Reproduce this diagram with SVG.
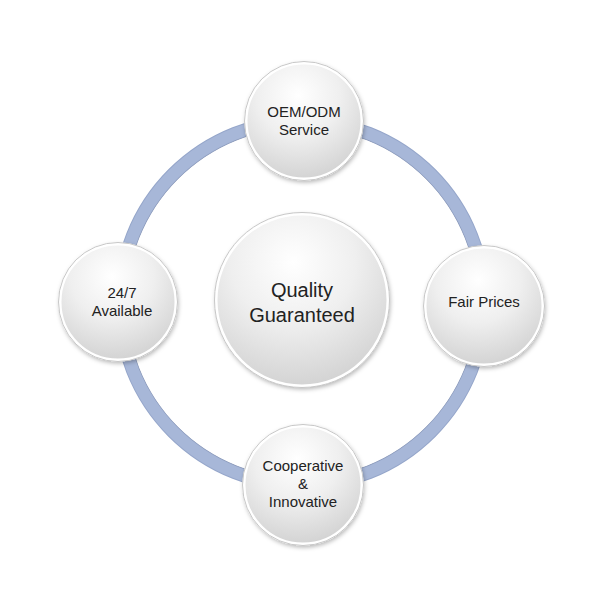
<svg xmlns="http://www.w3.org/2000/svg" width="606" height="606" viewBox="0 0 606 606">
  <style>
    .lbl { font-family: "Liberation Sans", Arial, sans-serif; font-size: 15px; fill: #222222; text-anchor: middle; }
    .big { font-family: "Liberation Sans", Arial, sans-serif; font-size: 20px; fill: #222222; text-anchor: middle; }
    .disc { fill: url(#discFill); stroke: #ffffff; stroke-width: 3; filter: url(#shadow); }
    .rim { fill: none; stroke: #c8c8c8; stroke-width: 1; }
  </style>
  <defs>
    <radialGradient id="discFill" cx="0.45" cy="0.28" r="0.8">
      <stop offset="0" stop-color="#ffffff"/>
      <stop offset="0.45" stop-color="#efefef"/>
      <stop offset="1" stop-color="#cdcdcd"/>
    </radialGradient>
    <filter id="shadow" x="-20%" y="-20%" width="140%" height="140%">
      <feDropShadow dx="1" dy="2" stdDeviation="2" flood-color="#000000" flood-opacity="0.28"/>
    </filter>
  </defs>
  <rect width="606" height="606" fill="#ffffff"/>
  <g id="connectors">
    <circle cx="302" cy="303" r="182" fill="none" stroke="#95a6ca" stroke-width="14"/>
    <circle cx="302" cy="303" r="182" fill="none" stroke="#a7b7d8" stroke-width="12"/>
    <circle cx="302" cy="303" r="175.5" fill="none" stroke="#8f9bb5" stroke-width="1" opacity="0.6"/>
    <circle cx="302" cy="303" r="174.5" fill="none" stroke="#ffffff" stroke-width="1.2"/>
  </g>
  <g id="center">
    <circle class="disc" cx="302" cy="300" r="86"/>
    <circle class="rim" cx="302" cy="300" r="87.5"/>
    <text class="big" x="302" y="297">Quality</text>
    <text class="big" x="302" y="322">Guaranteed</text>
  </g>
  <g id="top">
    <circle class="disc" cx="304" cy="121" r="58"/>
    <circle class="rim" cx="304" cy="121" r="59.5"/>
    <text class="lbl" x="304" y="117">OEM/ODM</text>
    <text class="lbl" x="304" y="135">Service</text>
  </g>
  <g id="right">
    <circle class="disc" cx="484" cy="306" r="59"/>
    <circle class="rim" cx="484" cy="306" r="60.5"/>
    <text class="lbl" x="484" y="307">Fair Prices</text>
  </g>
  <g id="bottom">
    <circle class="disc" cx="303" cy="485" r="59"/>
    <circle class="rim" cx="303" cy="485" r="60.5"/>
    <text class="lbl" x="303" y="471">Cooperative</text>
    <text class="lbl" x="303" y="489">&amp;</text>
    <text class="lbl" x="303" y="507">Innovative</text>
  </g>
  <g id="left">
    <circle class="disc" cx="118" cy="302" r="58"/>
    <circle class="rim" cx="118" cy="302" r="59.5"/>
    <text class="lbl" x="122" y="298">24/7</text>
    <text class="lbl" x="122" y="316">Available</text>
  </g>
</svg>
